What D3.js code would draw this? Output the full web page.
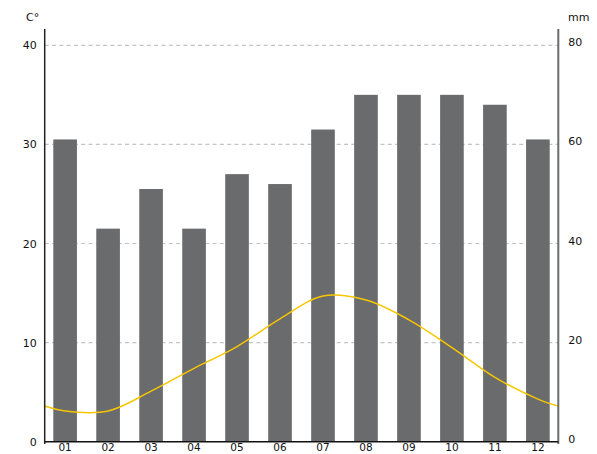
<!DOCTYPE html>
<html>
<head>
<meta charset="utf-8">
<script src="https://cdn.jsdelivr.net/npm/d3@7"></script>
<style>
  html, body { margin: 0; padding: 0; background: #fff; }
  svg { display: block; font-family: "DejaVu Sans", sans-serif; }
</style>
</head>
<body>
<svg id="chart" width="597" height="454"></svg>
<script>
// ---- data ----
const months = ["01","02","03","04","05","06","07","08","09","10","11","12"];
const precipitation = [61, 43, 51, 43, 54, 52, 63, 70, 70, 70, 68, 61];      // mm (bars)
const temperature = [3.1, 3.1, 5.1, 7.4, 9.6, 12.4, 14.7, 14.3, 12.3, 9.5, 6.5, 4.3]; // °C (line)
const temperatureAtEdges = [3.6, 3.6]; // line value at the left and right plot edges
const tempTicks = [0, 10, 20, 30, 40];
const precipTicks = [0, 20, 40, 60, 80];

// ---- layout ----
const plotLeft = 44.7, plotRight = 558.3, plotTop = 45.3, plotBottom = 441.7;
const svg = d3.select("#chart");

const x = d3.scaleBand().domain(months).range([plotLeft, plotRight]).paddingInner(0.45).paddingOuter(0.2);
const yT = d3.scaleLinear().domain([0, 40]).range([plotBottom, plotTop]);
const yP = d3.scaleLinear().domain([0, 80]).range([plotBottom, plotTop]);

// gridlines
svg.append("g").selectAll("line")
  .data(tempTicks.filter(d => d > 0))
  .join("line")
  .attr("x1", plotLeft).attr("x2", plotRight)
  .attr("y1", d => yT(d)).attr("y2", d => yT(d))
  .attr("stroke", "#c4c4c4").attr("stroke-width", 1.2)
  .attr("stroke-dasharray", "4,3.3");

// bars
svg.append("g").selectAll("rect")
  .data(months.map((m, i) => ({ m, v: precipitation[i] })))
  .join("rect")
  .attr("x", d => x(d.m))
  .attr("width", x.bandwidth())
  .attr("y", d => yP(d.v))
  .attr("height", d => yP(0) - yP(d.v))
  .attr("fill", "#6a6b6d");

// temperature line
const pts = [[plotLeft, temperatureAtEdges[0]]]
  .concat(months.map((m, i) => [x(m) + x.bandwidth() / 2, temperature[i]]))
  .concat([[plotRight, temperatureAtEdges[1]]]);
svg.append("path")
  .datum(pts)
  .attr("fill", "none")
  .attr("stroke", "#f7c600")
  .attr("stroke-width", 1.5)
  .attr("d", d3.line().x(d => d[0]).y(d => yT(d[1])).curve(d3.curveCatmullRom.alpha(0.5)));

// axes lines
svg.append("line").attr("x1", plotLeft).attr("x2", plotLeft).attr("y1", 29).attr("y2", 444)
  .attr("stroke", "#222").attr("stroke-width", 1.5);
svg.append("line").attr("x1", plotRight).attr("x2", plotRight).attr("y1", 29).attr("y2", 444)
  .attr("stroke", "#6a6b6d").attr("stroke-width", 2);
svg.append("line").attr("x1", plotLeft).attr("x2", plotRight).attr("y1", plotBottom).attr("y2", plotBottom)
  .attr("stroke", "#111").attr("stroke-width", 1.5);

// left axis labels
const leftAxis = d3.axisLeft(yT).tickValues(tempTicks).tickSize(0).tickPadding(8);
const gl = svg.append("g").attr("transform", `translate(${plotLeft},0)`).call(leftAxis);
gl.select(".domain").remove();
gl.selectAll("text").attr("font-size", 11).attr("fill", "#111").attr("font-family", "DejaVu Sans, sans-serif");

// right axis labels
const rightAxis = d3.axisRight(yP).tickValues(precipTicks).tickSize(0).tickPadding(10);
const gr = svg.append("g").attr("transform", `translate(${plotRight},-3)`).call(rightAxis);
gr.select(".domain").remove();
gr.selectAll("text").attr("font-size", 11).attr("fill", "#111").attr("font-family", "DejaVu Sans, sans-serif");

// bottom axis labels
const bottomAxis = d3.axisBottom(x).tickSize(0).tickPadding(2);
const gb = svg.append("g").attr("transform", `translate(0,${plotBottom})`).call(bottomAxis);
gb.select(".domain").remove();
gb.selectAll("text").attr("font-size", 10.5).attr("fill", "#111").attr("font-family", "DejaVu Sans, sans-serif");

// unit labels
svg.append("text").attr("x", 26).attr("y", 21).attr("font-size", 11).attr("fill", "#111").text("C°");
svg.append("text").attr("x", 568).attr("y", 21).attr("font-size", 11).attr("fill", "#111").text("mm");
</script>
</body>
</html>
